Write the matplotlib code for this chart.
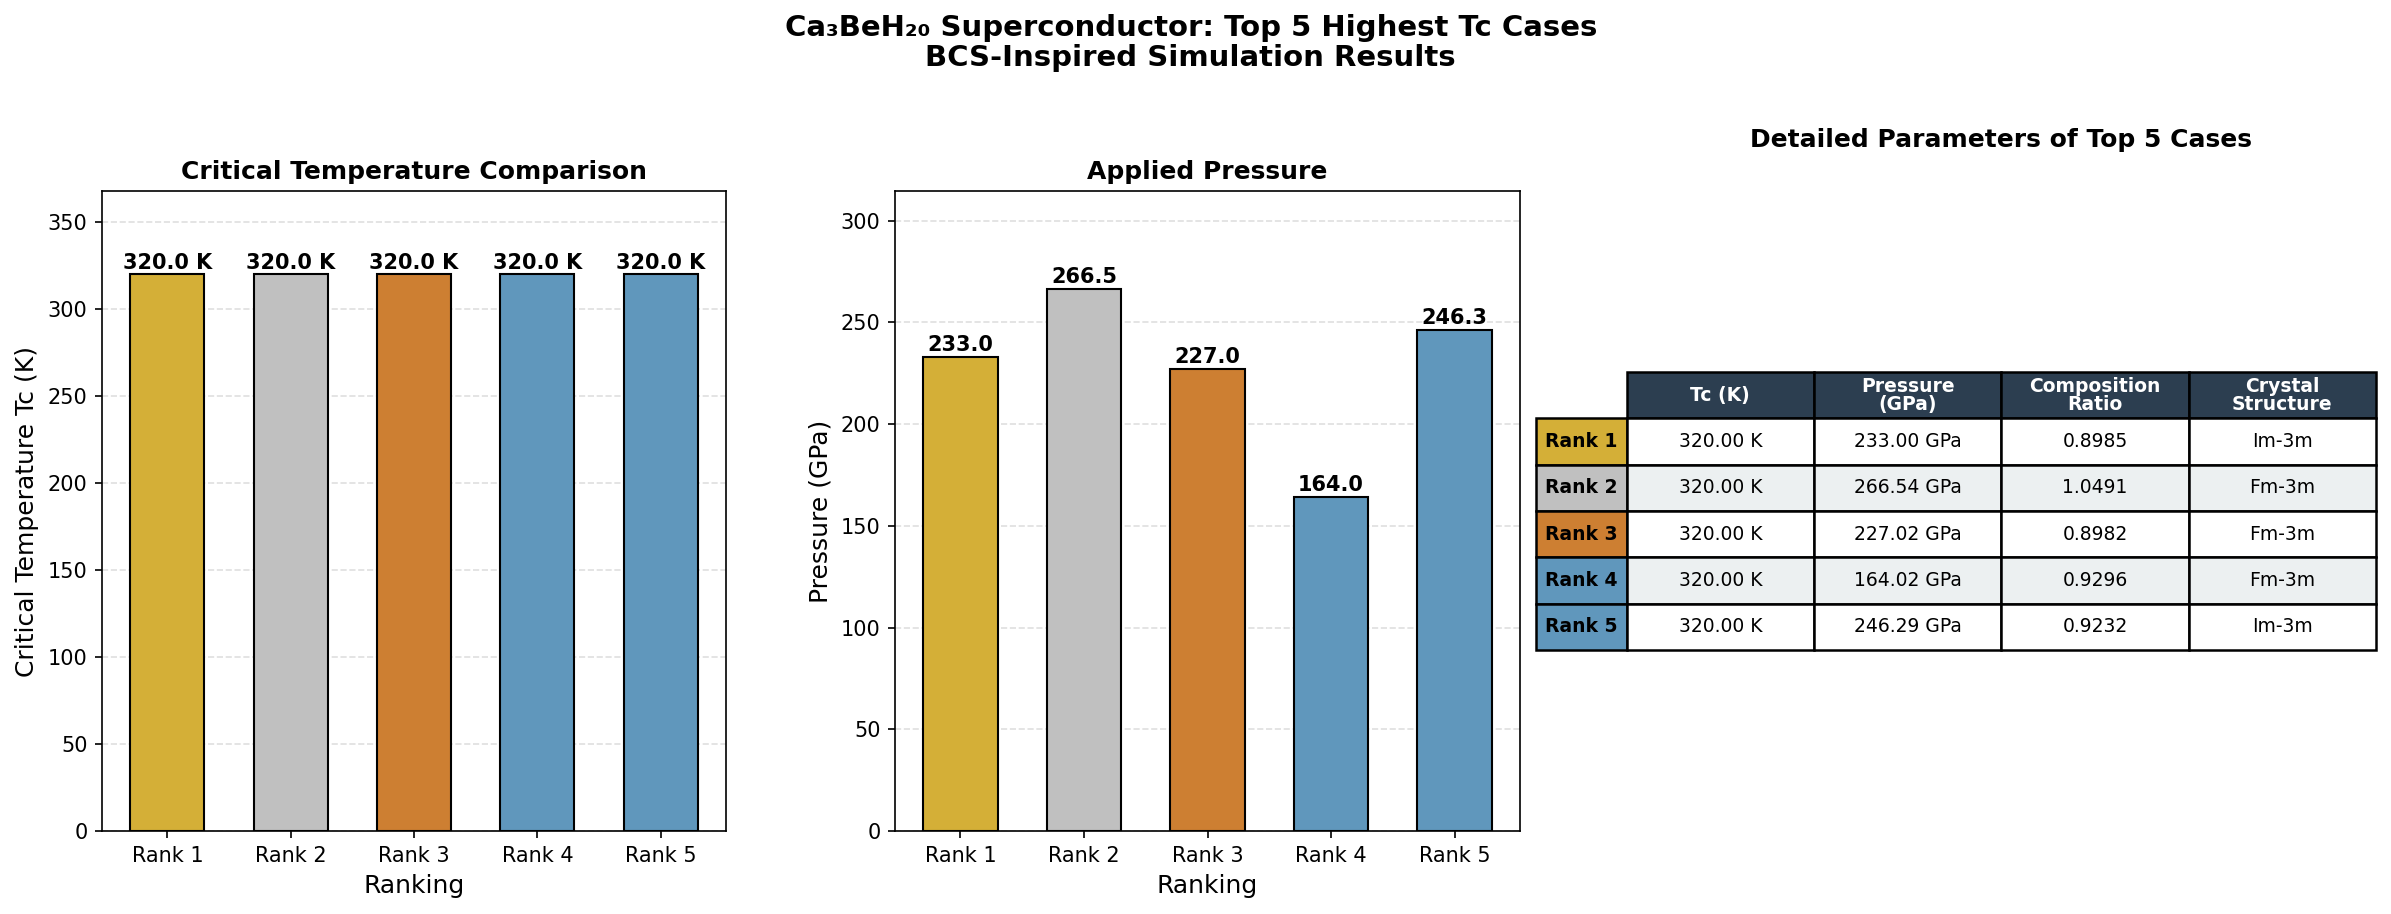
import matplotlib
matplotlib.use("Agg")
import matplotlib.pyplot as plt

ranks = ["Rank 1", "Rank 2", "Rank 3", "Rank 4", "Rank 5"]
tc_values = [320.0, 320.0, 320.0, 320.0, 320.0]
pressure_values = [233.00, 266.54, 227.02, 164.02, 246.29]
composition_ratio = [0.8985, 1.0491, 0.8982, 0.9296, 0.9232]
crystal_structure = ["Im-3m", "Fm-3m", "Fm-3m", "Fm-3m", "Im-3m"]
col_headers = ["Tc (K)", "Pressure\n(GPa)", "Composition\nRatio", "Crystal\nStructure"]
bar_colors = ["#D4AF37", "#C0C0C0", "#CD7F32", "#6097BC", "#6097BC"]

W, H = 2391, 914
fig = plt.figure(figsize=(W / 150, H / 150), dpi=150)

fig.text(0.498, 1 - 43 / 914, "Ca\u2083BeH\u2082\u2080 Superconductor: Top 5 Highest Tc Cases\nBCS-Inspired Simulation Results",
         ha="center", va="center", fontsize=14, fontweight="bold", linespacing=1.1)

def px_axes(l, r, t, b):
    return fig.add_axes([l / W, 1 - b / H, (r - l) / W, (b - t) / H])

ax1 = px_axes(102, 726, 191, 831)
ax2 = px_axes(895, 1520, 191, 831)

x = range(len(ranks))
b1 = ax1.bar(x, tc_values, width=0.6, color=bar_colors, edgecolor="black", linewidth=1)
ax1.set_ylim(0, max(tc_values) * 1.15)
ax1.set_xticks(list(x))
ax1.set_xticklabels(ranks, fontsize=10)
ax1.set_ylabel("Critical Temperature Tc (K)", fontsize=12)
ax1.set_xlabel("Ranking", fontsize=12)
ax1.set_title("Critical Temperature Comparison", fontsize=12, fontweight="bold")
ax1.grid(axis="y", linestyle="--", alpha=0.4)
ax1.set_axisbelow(True)
for rect, v in zip(b1, tc_values):
    ax1.text(rect.get_x() + rect.get_width() / 2, v + 1, f"{v:.1f} K",
             ha="center", va="bottom", fontsize=10, fontweight="bold")

b2 = ax2.bar(x, pressure_values, width=0.6, color=bar_colors, edgecolor="black", linewidth=1)
ax2.set_ylim(0, max(pressure_values) * 1.18)
ax2.set_xticks(list(x))
ax2.set_xticklabels(ranks, fontsize=10)
ax2.set_ylabel("Pressure (GPa)", fontsize=12)
ax2.set_xlabel("Ranking", fontsize=12)
ax2.set_title("Applied Pressure", fontsize=12, fontweight="bold")
ax2.grid(axis="y", linestyle="--", alpha=0.4)
ax2.set_axisbelow(True)
for rect, v in zip(b2, pressure_values):
    ax2.text(rect.get_x() + rect.get_width() / 2, v + 1, f"{v:.1f}",
             ha="center", va="bottom", fontsize=10, fontweight="bold")

for ax in (ax1, ax2):
    ax.tick_params(axis="y", labelsize=10)

# table
ax3 = fig.add_axes([0, 0, 1, 1])
ax3.axis("off")
ax3.set_xlim(0, 1)
ax3.set_ylim(0, 1)
fig.text(2001 / W, 1 - 140 / H, "Detailed Parameters of Top 5 Cases",
         ha="center", va="center", fontsize=12, fontweight="bold")

cell_text = [["", *col_headers]]
for i in range(len(ranks)):
    cell_text.append([ranks[i], f"{tc_values[i]:.2f} K", f"{pressure_values[i]:.2f} GPa",
                      f"{composition_ratio[i]:.4f}", crystal_structure[i]])

tl, tr, tt, tb = 1536, 2376, 372, 650
colw = [91, 188, 188, 188, 188]
tot = sum(colw)
tbl = ax3.table(cellText=cell_text, colWidths=[c / tot for c in colw], cellLoc="center",
                bbox=[tl / W, 1 - tb / H, (tr - tl) / W, (tb - tt) / H])
tbl.auto_set_font_size(False)
tbl.set_fontsize(9)
for (r, c), cell in tbl.get_celld().items():
    cell.set_linewidth(1.2)
    cell.set_edgecolor("black")
    if r == 0:
        if c == 0:
            cell.set_visible(False)
            continue
        cell.set_facecolor("#2C3E50")
        cell.get_text().set_color("white")
        cell.get_text().set_fontweight("bold")
        cell.get_text().set_linespacing(0.95)
    elif c == 0:
        cell.set_facecolor(bar_colors[r - 1])
        cell.get_text().set_fontweight("bold")
    else:
        cell.set_facecolor("#ECF0F1" if r % 2 == 0 else "white")

fig.savefig("out.png", dpi=150)
